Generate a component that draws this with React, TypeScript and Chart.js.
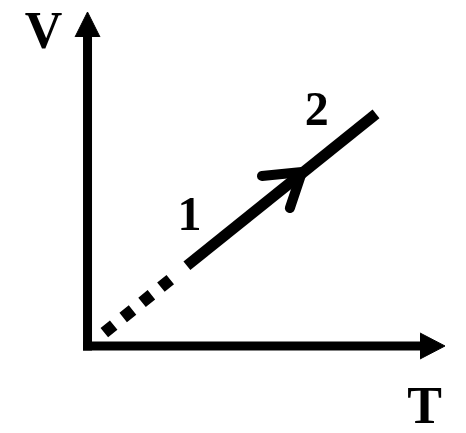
import React, { useEffect, useRef } from "react";
import { Chart, registerables } from "chart.js";

Chart.register(...registerables);

// Axis range (arbitrary units of T and V)
const tRange = [-2.448, 10.587];
const vRange = [-2.605, 10.359];

// Axes (shafts) and arrowheads
const vAxis = [
  { x: 0, y: 0 },
  { x: 0, y: 9.4 },
];
const tAxis = [
  { x: 0, y: 0 },
  { x: 9.4, y: 0 },
];
const vArrowHead = [
  { x: -0.35, y: 9.25 },
  { x: 0, y: 10 },
  { x: 0.35, y: 9.25 },
];
const tArrowHead = [
  { x: 9.3, y: 0.39 },
  { x: 10, y: 0 },
  { x: 9.3, y: -0.39 },
];

// Extrapolated part toward the origin (dotted)
const extrapolated = [
  { x: 0.47, y: 0.4 },
  { x: 2.33, y: 2.0 },
];
// Process 1 -> 2
const process12 = [
  { x: 2.78, y: 2.4 },
  { x: 8.07, y: 6.95 },
];
// Direction chevron on the process line
const directionArrow = [
  { x: 4.88, y: 5.09 },
  { x: 6.0, y: 5.21 },
  { x: 5.66, y: 4.13 },
];

// Text labels
const labelTexts = ["V", "T", "1", "2"];
const labelT = [-1.23, 9.43, 2.85, 6.41];
const labelV = [8.92, -2.31, 3.47, 6.62];
const labelSizes = [52, 52, 48, 48];

const labelPlugin = {
  id: "labels",
  afterDatasetsDraw(chart: any) {
    const { ctx, scales } = chart;
    ctx.save();
    ctx.fillStyle = "#000";
    ctx.textAlign = "center";
    ctx.textBaseline = "alphabetic";
    labelTexts.forEach((t, i) => {
      ctx.font = `bold ${labelSizes[i]}px "Liberation Serif", "Times New Roman", serif`;
      ctx.fillText(
        t,
        scales.x.getPixelForValue(labelT[i]),
        scales.y.getPixelForValue(labelV[i])
      );
    });
    ctx.restore();
  },
};

export default function App() {
  const ref = useRef<HTMLCanvasElement | null>(null);
  useEffect(() => {
    if (!ref.current) return;
    const base = {
      showLine: true,
      pointRadius: 0,
      borderColor: "#000",
      backgroundColor: "#000",
      tension: 0,
      clip: false as any,
    };
    const chart = new Chart(ref.current, {
      type: "scatter",
      data: {
        datasets: [
          { ...base, data: vAxis, borderWidth: 9, borderCapStyle: "square" },
          { ...base, data: tAxis, borderWidth: 9, borderCapStyle: "square" },
          { ...base, data: vArrowHead, borderWidth: 1, fill: "shape" },
          { ...base, data: tArrowHead, borderWidth: 1, fill: "shape" },
          {
            ...base,
            data: extrapolated,
            borderWidth: 12,
            borderCapStyle: "butt",
            borderDash: [12, 12.2],
          },
          { ...base, data: process12, borderWidth: 11, borderCapStyle: "butt" },
          {
            ...base,
            data: directionArrow,
            borderWidth: 10,
            borderCapStyle: "round",
            borderJoinStyle: "round",
          },
        ] as any,
      },
      options: {
        animation: false,
        responsive: false,
        devicePixelRatio: 1,
        layout: { padding: 0 },
        plugins: { legend: { display: false }, tooltip: { enabled: false } },
        scales: {
          x: { type: "linear", display: false, min: tRange[0], max: tRange[1] },
          y: { type: "linear", display: false, min: vRange[0], max: vRange[1] },
        },
      },
      plugins: [labelPlugin],
    });
    return () => chart.destroy();
  }, []);
  return (
    <div style={{ position: "fixed", left: 0, top: 0, width: 466, height: 433, background: "#fff" }}>
      <canvas ref={ref} width={466} height={433} />
    </div>
  );
}
